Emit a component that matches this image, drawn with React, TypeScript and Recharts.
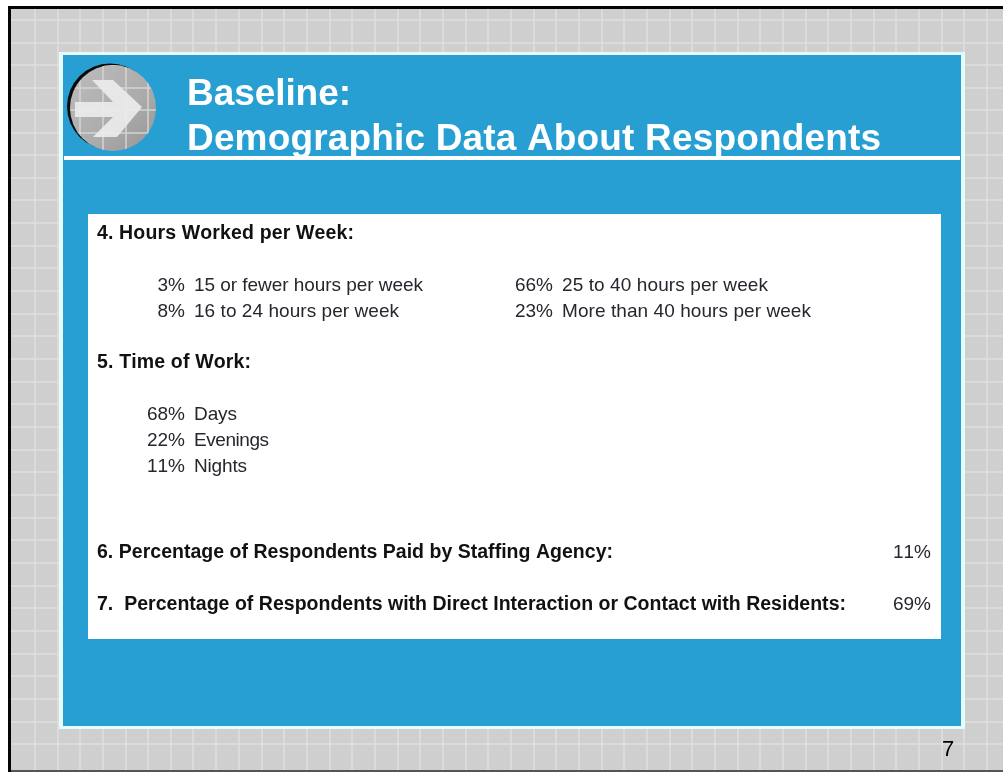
import {
  CartesianGrid,
  ComposedChart,
  ReferenceArea,
  ReferenceDot,
  Scatter,
  XAxis,
  YAxis,
} from 'recharts'

const titleLines = ['Baseline:', 'Demographic Data About Respondents']
const pageNumber = '7'

const hoursHeading = '4. Hours Worked per Week:'
const hoursLeftValues = [3, 8]
const hoursLeftLabels = ['15 or fewer hours per week', '16 to 24 hours per week']
const hoursRightValues = [66, 23]
const hoursRightLabels = ['25 to 40 hours per week', 'More than 40 hours per week']

const timeHeading = '5. Time of Work:'
const timeValues = [68, 22, 11]
const timeLabels = ['Days', 'Evenings', 'Nights']

const agencyHeading = '6. Percentage of Respondents Paid by Staffing Agency:'
const agencyValue = 11
const contactHeading = '7.\u00A0\u00A0Percentage of Respondents with Direct Interaction or Contact with Residents:'
const contactValue = 69

const WIDTH = 1003
const HEIGHT = 772
const FONT = '"Liberation Sans", Arial, sans-serif'

const gridX = [35, 58, 80, 103, 126, 148, 171, 193, 216, 239, 262, 284, 307, 330, 352, 375, 398, 420, 443, 466, 488, 511, 534, 556, 579, 602, 624, 647, 670, 692, 715, 738, 760, 783, 806, 828, 851, 874, 896, 919, 942, 964, 987]
const gridY = [20, 43, 65, 88, 110, 133, 155, 178, 200, 223, 246, 268, 291, 314, 336, 359, 382, 404, 427, 450, 472, 495, 518, 540, 563, 586, 608, 631, 654, 676, 699, 722, 744]

const BLUE = '#279FD3'
const TEXT = '#26262e'

type TextRow = { x: number; y: number; text: string; w?: number }

const TextShape = (style: { size: number; weight?: string; fill: string; anchor?: string }) =>
  (props: any) => (
    <text
      x={props.cx}
      y={props.cy}
      fontFamily={FONT}
      fontSize={style.size}
      fontWeight={style.weight ?? 'normal'}
      fill={style.fill}
      textAnchor={style.anchor ?? 'start'}
      textLength={props.payload.w}
      lengthAdjust='spacing'
      style={{ fontKerning: 'none' }}
    >
      {props.payload.text}
    </text>
  )

const pct = (v: number) => `${v}%`

const titleRows: TextRow[] = titleLines.map((text, i) => ({ x: 187, y: 105 + i * 45, text, w: [164, 694][i] }))
const headingRows: TextRow[] = [
  { x: 97, y: 239, text: hoursHeading, w: 257 },
  { x: 97, y: 368, text: timeHeading, w: 154 },
  { x: 97, y: 558, text: agencyHeading, w: 516 },
  { x: 97, y: 610, text: contactHeading, w: 749 },
]
const valueRows: TextRow[] = [
  ...hoursLeftValues.map((v, i) => ({ x: 185, y: 291 + i * 26, text: pct(v) })),
  ...hoursRightValues.map((v, i) => ({ x: 553, y: 291 + i * 26, text: pct(v) })),
  ...timeValues.map((v, i) => ({ x: 185, y: 420 + i * 26, text: pct(v) })),
  { x: 931, y: 558, text: pct(agencyValue) },
  { x: 931, y: 610, text: pct(contactValue) },
]
const labelRows: TextRow[] = [
  ...hoursLeftLabels.map((text, i) => ({ x: 194, y: 291 + i * 26, text, w: [229, 205][i] })),
  ...hoursRightLabels.map((text, i) => ({ x: 562, y: 291 + i * 26, text, w: [206, 249][i] })),
  ...timeLabels.map((text, i) => ({ x: 194, y: 420 + i * 26, text, w: [43, 75, 53][i] })),
]

const Badge = (props: any) => {
  const { cx, cy } = props
  return (
    <g>
      <defs>
        <linearGradient id='disc' x1='0' y1='0' x2='1' y2='1'>
          <stop offset='0%' stopColor='#bdbdbd' />
          <stop offset='60%' stopColor='#ababab' />
          <stop offset='100%' stopColor='#959595' />
        </linearGradient>
        <clipPath id='discClip'>
          <circle cx={cx} cy={cy} r={43} />
        </clipPath>
      </defs>
      <circle cx={cx - 3} cy={cy - 1.5} r={43} fill='#0b0b0b' />
      <circle cx={cx} cy={cy} r={43} fill='url(#disc)' />
      <g clipPath='url(#discClip)' stroke='#d4d4d4' strokeWidth={1.5}>
        {gridX.slice(0, 6).map((x) => <line key={x} x1={x} x2={x} y1={cy - 43} y2={cy + 43} />)}
        {gridY.slice(0, 9).map((y) => <line key={y} y1={y} y2={y} x1={cx - 43} x2={cx + 43} />)}
      </g>
      <polygon
        points='92,80 113,80 142,107 117,137 93,137 113,117 75,117 75,102 113,102'
        fill='#ebebeb'
        fillOpacity={0.92}
      />
    </g>
  )
}

export default function App() {
  return (
    <div style={{ position: 'absolute', left: 0, top: 0, width: WIDTH, height: HEIGHT, background: '#fff', filter: 'blur(0.45px)' }}>
      <ComposedChart width={WIDTH} height={HEIGHT} margin={{ top: 0, right: 0, bottom: 0, left: 0 }} data={[]}>
        <XAxis type='number' dataKey='x' domain={[0, WIDTH]} hide />
        <YAxis type='number' dataKey='y' domain={[0, HEIGHT]} reversed hide />
        <CartesianGrid
          x={11}
          y={9}
          width={WIDTH - 11}
          height={761}
          fill='#CFCFCF'
          fillOpacity={1}
          stroke='#DFDFDF'
          strokeWidth={1.5}
          verticalPoints={gridX}
          horizontalPoints={gridY}
        />
        <ReferenceArea x1={8} x2={11} y1={6} y2={772} fill='#050505' fillOpacity={1} stroke='none' />
        <ReferenceArea x1={8} x2={WIDTH} y1={6} y2={9} fill='#050505' fillOpacity={1} stroke='none' />
        <ReferenceArea x1={11} x2={WIDTH} y1={770} y2={772} fill='#555' fillOpacity={1} stroke='none' />
        <ReferenceArea x1={59} x2={965} y1={52} y2={729} fill='#E6FBFB' fillOpacity={1} stroke='none' />
        <ReferenceArea x1={63} x2={961} y1={55} y2={726} fill={BLUE} fillOpacity={1} stroke='none' />
        <ReferenceArea x1={64} x2={960} y1={156} y2={160} fill='#fff' fillOpacity={1} stroke='none' />
        <ReferenceArea x1={88} x2={941} y1={214} y2={639} fill='#fff' fillOpacity={1} stroke='none' />
        <ReferenceDot x={113} y={108} r={43} shape={Badge} />
        <Scatter data={titleRows} isAnimationActive={false} shape={TextShape({ size: 37, weight: 'bold', fill: '#fff' })} />
        <Scatter data={headingRows} isAnimationActive={false} shape={TextShape({ size: 19.5, weight: 'bold', fill: '#111' })} />
        <Scatter data={valueRows} isAnimationActive={false} shape={TextShape({ size: 19, fill: TEXT, anchor: 'end' })} />
        <Scatter data={labelRows} isAnimationActive={false} shape={TextShape({ size: 19, fill: TEXT })} />
        <Scatter
          data={[{ x: 948, y: 756, text: pageNumber }]}
          isAnimationActive={false}
          shape={TextShape({ size: 22, fill: '#000', anchor: 'middle' })}
        />
      </ComposedChart>
    </div>
  )
}
